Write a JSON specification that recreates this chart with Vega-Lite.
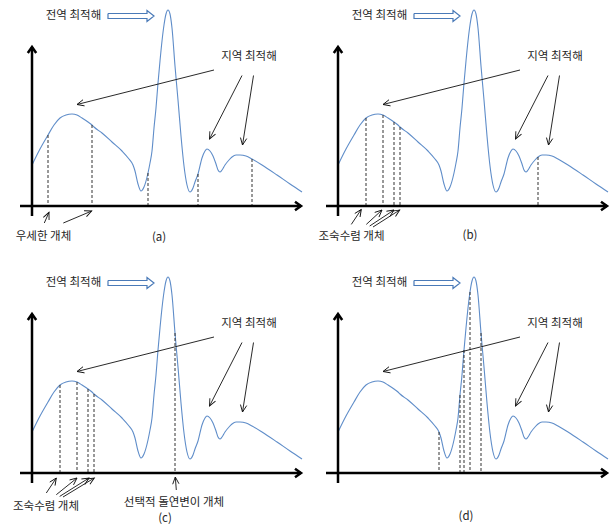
{
  "$schema": "https://vega.github.io/schema/vega-lite/v6.json",
  "padding": 0,
  "background": "white",
  "config": {"view": {"stroke": null}, "text": {"font": "Noto Sans CJK KR", "fontSize": 11.5, "color": "#262626"}},
  "datasets": {
    "curve": [
      {"x":0,"y":41},{"x":8,"y":57},{"x":16,"y":71},{"x":22,"y":81},{"x":28,"y":88},{"x":34,"y":91},{"x":40,"y":92},{"x":45,"y":91},{"x":50,"y":88},{"x":56,"y":84},{"x":60,"y":81},{"x":62,"y":79},{"x":70,"y":73},{"x":80,"y":64},{"x":90,"y":55},{"x":97,"y":47},{"x":101,"y":41},{"x":103,"y":35},{"x":106,"y":22},{"x":109,"y":15},{"x":112,"y":19},{"x":116,"y":33},{"x":118,"y":43},{"x":120,"y":55},{"x":122,"y":78},{"x":124,"y":98},{"x":126,"y":123},{"x":128,"y":145},{"x":130,"y":165},{"x":132,"y":181},{"x":134,"y":192},{"x":136,"y":196},{"x":138,"y":192},{"x":140,"y":178},{"x":143,"y":140},{"x":146,"y":106},{"x":149,"y":70},{"x":152,"y":40},{"x":155,"y":21},{"x":158,"y":14},{"x":161,"y":18},{"x":163,"y":24},{"x":166,"y":32},{"x":170,"y":48},{"x":173,"y":55},{"x":175,"y":57},{"x":178,"y":55},{"x":181,"y":50},{"x":184,"y":42},{"x":186,"y":36},{"x":188,"y":34},{"x":190,"y":36},{"x":193,"y":41},{"x":197,"y":46},{"x":200,"y":49},{"x":204,"y":51},{"x":208,"y":51},{"x":214,"y":50},{"x":220,"y":47},{"x":230,"y":41},{"x":245,"y":31},{"x":258,"y":22},{"x":270,"y":14}
    ],
    "dashes": [
      {"panel":"a","x":16,"y":71},{"panel":"a","x":60,"y":81},{"panel":"a","x":116,"y":33},{"panel":"a","x":166,"y":32},{"panel":"a","x":220,"y":47},
      {"panel":"b","x":28,"y":88},{"panel":"b","x":45,"y":91},{"panel":"b","x":56,"y":84},{"panel":"b","x":62,"y":79},{"panel":"b","x":200,"y":49},
      {"panel":"c","x":28,"y":88},{"panel":"c","x":45,"y":91},{"panel":"c","x":56,"y":84},{"panel":"c","x":62,"y":79},{"panel":"c","x":143,"y":140},
      {"panel":"d","x":101,"y":41},{"panel":"d","x":122,"y":78},{"panel":"d","x":126,"y":123},{"panel":"d","x":132,"y":181},{"panel":"d","x":143,"y":140}
    ],
    "axes": [
      {"x":0,"y":159,"x2":0,"y2":-10,"ang":-90},
      {"x":269,"y":0,"x2":-12,"y2":0,"ang":0}
    ],
    "arrows": [
      {"panel":"all","x":45,"y":101.5,"x2":182,"y2":136,"ang":165.9},
      {"panel":"all","x":177.5,"y":67,"x2":210,"y2":130.5,"ang":117.1},
      {"panel":"all","x":210.5,"y":61,"x2":221.5,"y2":130.5,"ang":99.0},
      {"panel":"a","x":17,"y":-6.3,"x2":12.3,"y2":-17,"ang":-66.3},
      {"panel":"a","x":59.7,"y":-5,"x2":31.3,"y2":-17,"ang":-22.9},
      {"panel":"b","x":23.3,"y":-3.4,"x2":13.3,"y2":-18.4,"ang":-56.3},
      {"panel":"b","x":44,"y":-4,"x2":28.3,"y2":-18.4,"ang":-42.5},
      {"panel":"b","x":56,"y":-4,"x2":31.7,"y2":-20,"ang":-33.4},
      {"panel":"b","x":61.7,"y":-4,"x2":35,"y2":-21,"ang":-32.5},
      {"panel":"c","x":24.3,"y":-5,"x2":14.3,"y2":-20,"ang":-56.3},
      {"panel":"c","x":45,"y":-5,"x2":24.3,"y2":-21.7,"ang":-38.9},
      {"panel":"c","x":57,"y":-5,"x2":27.7,"y2":-23.4,"ang":-32.1},
      {"panel":"c","x":62.3,"y":-5,"x2":31,"y2":-24,"ang":-31.3},
      {"panel":"c","x":143.3,"y":-4,"x2":144.3,"y2":-17,"ang":-94.4}
    ],
    "texts": [
      {"panel":"all","x":41.5,"y":190.5,"label":"전역 최적해"},
      {"panel":"all","x":217,"y":149.5,"label":"지역 최적해"},
      {"panel":"a","x":11.5,"y":-31,"label":"우세한 개체"},
      {"panel":"a","x":127,"y":-31.5,"label":"(a)"},
      {"panel":"b","x":13.5,"y":-31,"label":"조숙수렴 개체"},
      {"panel":"b","x":132,"y":-29.5,"label":"(b)"},
      {"panel":"c","x":14,"y":-34,"label":"조숙수렴 개체"},
      {"panel":"c","x":142,"y":-30,"label":"선택적 돌연변이 개체"},
      {"panel":"c","x":133,"y":-46,"label":"(c)"},
      {"panel":"d","x":128,"y":-43.5,"label":"(d)"}
    ],
    "block": [
      {"o":1,"x":76,"y":192.5},{"o":2,"x":115,"y":192.5},{"o":3,"x":115,"y":195.5},{"o":4,"x":122,"y":190},{"o":5,"x":115,"y":184.5},{"o":6,"x":115,"y":187.5},{"o":7,"x":76,"y":187.5},{"o":8,"x":76,"y":192.5}
    ]
  },
  "spacing": 7,
  "vconcat": [
    {"spacing": 0, "hconcat": [
      {"width":302,"height":260,
       "encoding":{"x":{"field":"x","type":"quantitative","scale":{"domain":[-32,270],"nice":false,"zero":false},"axis":null},
                   "y":{"field":"y","type":"quantitative","scale":{"domain":[-54,206],"nice":false,"zero":false},"axis":null}},
       "layer":[
        {"data":{"name":"curve"},"mark":{"type":"line","interpolate":"monotone","color":"#5f8dc9","strokeWidth":1.1}},
        {"data":{"name":"dashes"},"transform":[{"filter":"datum.panel=='a'"}],"mark":{"type":"rule","color":"#333333","strokeWidth":1,"strokeDash":[3,2]},"encoding":{"y2":{"datum":0}}},
        {"data":{"name":"axes"},"mark":{"type":"rule","color":"#000000","strokeWidth":2.5},"encoding":{"x2":{"field":"x2"},"y2":{"field":"y2"}}},
        {"data":{"name":"axes"},"mark":{"type":"point","shape":"M-1,-0.7L0,0L-1,0.7","filled":false,"stroke":"#000000","strokeWidth":2.5,"size":144,"opacity":1},"encoding":{"angle":{"field":"ang","type":"quantitative","scale":null}}},
        {"data":{"name":"arrows"},"transform":[{"filter":"datum.panel=='a' || datum.panel=='all'"}],"mark":{"type":"rule","color":"#111111","strokeWidth":0.9},"encoding":{"x2":{"field":"x2"},"y2":{"field":"y2"}}},
        {"data":{"name":"arrows"},"transform":[{"filter":"datum.panel=='a' || datum.panel=='all'"}],"mark":{"type":"point","shape":"M-1,-0.45L0,0L-1,0.45","filled":false,"stroke":"#111111","strokeWidth":0.9,"size":196,"opacity":1},"encoding":{"angle":{"field":"ang","type":"quantitative","scale":null}}},
        {"data":{"name":"block"},"mark":{"type":"line","color":"#4a7ab8","strokeWidth":1.2},"encoding":{"order":{"field":"o"}}},
        {"data":{"name":"texts"},"transform":[{"filter":"datum.panel=='a' || datum.panel=='all'"}],"mark":{"type":"text","align":"center","baseline":"middle"},"encoding":{"text":{"field":"label"}}}
       ]},
      {"width":302,"height":260,
       "encoding":{"x":{"field":"x","type":"quantitative","scale":{"domain":[-32,270],"nice":false,"zero":false},"axis":null},
                   "y":{"field":"y","type":"quantitative","scale":{"domain":[-54,206],"nice":false,"zero":false},"axis":null}},
       "layer":[
        {"data":{"name":"curve"},"mark":{"type":"line","interpolate":"monotone","color":"#5f8dc9","strokeWidth":1.1}},
        {"data":{"name":"dashes"},"transform":[{"filter":"datum.panel=='b'"}],"mark":{"type":"rule","color":"#333333","strokeWidth":1,"strokeDash":[3,2]},"encoding":{"y2":{"datum":0}}},
        {"data":{"name":"axes"},"mark":{"type":"rule","color":"#000000","strokeWidth":2.5},"encoding":{"x2":{"field":"x2"},"y2":{"field":"y2"}}},
        {"data":{"name":"axes"},"mark":{"type":"point","shape":"M-1,-0.7L0,0L-1,0.7","filled":false,"stroke":"#000000","strokeWidth":2.5,"size":144,"opacity":1},"encoding":{"angle":{"field":"ang","type":"quantitative","scale":null}}},
        {"data":{"name":"arrows"},"transform":[{"filter":"datum.panel=='b' || datum.panel=='all'"}],"mark":{"type":"rule","color":"#111111","strokeWidth":0.9},"encoding":{"x2":{"field":"x2"},"y2":{"field":"y2"}}},
        {"data":{"name":"arrows"},"transform":[{"filter":"datum.panel=='b' || datum.panel=='all'"}],"mark":{"type":"point","shape":"M-1,-0.45L0,0L-1,0.45","filled":false,"stroke":"#111111","strokeWidth":0.9,"size":196,"opacity":1},"encoding":{"angle":{"field":"ang","type":"quantitative","scale":null}}},
        {"data":{"name":"block"},"mark":{"type":"line","color":"#4a7ab8","strokeWidth":1.2},"encoding":{"order":{"field":"o"}}},
        {"data":{"name":"texts"},"transform":[{"filter":"datum.panel=='b' || datum.panel=='all'"}],"mark":{"type":"text","align":"center","baseline":"middle"},"encoding":{"text":{"field":"label"}}}
       ]}
    ]},
    {"spacing": 0, "hconcat": [
      {"width":302,"height":260,
       "encoding":{"x":{"field":"x","type":"quantitative","scale":{"domain":[-32,270],"nice":false,"zero":false},"axis":null},
                   "y":{"field":"y","type":"quantitative","scale":{"domain":[-54,206],"nice":false,"zero":false},"axis":null}},
       "layer":[
        {"data":{"name":"curve"},"mark":{"type":"line","interpolate":"monotone","color":"#5f8dc9","strokeWidth":1.1}},
        {"data":{"name":"dashes"},"transform":[{"filter":"datum.panel=='c'"}],"mark":{"type":"rule","color":"#333333","strokeWidth":1,"strokeDash":[3,2]},"encoding":{"y2":{"datum":0}}},
        {"data":{"name":"axes"},"mark":{"type":"rule","color":"#000000","strokeWidth":2.5},"encoding":{"x2":{"field":"x2"},"y2":{"field":"y2"}}},
        {"data":{"name":"axes"},"mark":{"type":"point","shape":"M-1,-0.7L0,0L-1,0.7","filled":false,"stroke":"#000000","strokeWidth":2.5,"size":144,"opacity":1},"encoding":{"angle":{"field":"ang","type":"quantitative","scale":null}}},
        {"data":{"name":"arrows"},"transform":[{"filter":"datum.panel=='c' || datum.panel=='all'"}],"mark":{"type":"rule","color":"#111111","strokeWidth":0.9},"encoding":{"x2":{"field":"x2"},"y2":{"field":"y2"}}},
        {"data":{"name":"arrows"},"transform":[{"filter":"datum.panel=='c' || datum.panel=='all'"}],"mark":{"type":"point","shape":"M-1,-0.45L0,0L-1,0.45","filled":false,"stroke":"#111111","strokeWidth":0.9,"size":196,"opacity":1},"encoding":{"angle":{"field":"ang","type":"quantitative","scale":null}}},
        {"data":{"name":"block"},"mark":{"type":"line","color":"#4a7ab8","strokeWidth":1.2},"encoding":{"order":{"field":"o"}}},
        {"data":{"name":"texts"},"transform":[{"filter":"datum.panel=='c' || datum.panel=='all'"}],"mark":{"type":"text","align":"center","baseline":"middle"},"encoding":{"text":{"field":"label"}}}
       ]},
      {"width":302,"height":260,
       "encoding":{"x":{"field":"x","type":"quantitative","scale":{"domain":[-32,270],"nice":false,"zero":false},"axis":null},
                   "y":{"field":"y","type":"quantitative","scale":{"domain":[-54,206],"nice":false,"zero":false},"axis":null}},
       "layer":[
        {"data":{"name":"curve"},"mark":{"type":"line","interpolate":"monotone","color":"#5f8dc9","strokeWidth":1.1}},
        {"data":{"name":"dashes"},"transform":[{"filter":"datum.panel=='d'"}],"mark":{"type":"rule","color":"#333333","strokeWidth":1,"strokeDash":[3,2]},"encoding":{"y2":{"datum":0}}},
        {"data":{"name":"axes"},"mark":{"type":"rule","color":"#000000","strokeWidth":2.5},"encoding":{"x2":{"field":"x2"},"y2":{"field":"y2"}}},
        {"data":{"name":"axes"},"mark":{"type":"point","shape":"M-1,-0.7L0,0L-1,0.7","filled":false,"stroke":"#000000","strokeWidth":2.5,"size":144,"opacity":1},"encoding":{"angle":{"field":"ang","type":"quantitative","scale":null}}},
        {"data":{"name":"arrows"},"transform":[{"filter":"datum.panel=='d' || datum.panel=='all'"}],"mark":{"type":"rule","color":"#111111","strokeWidth":0.9},"encoding":{"x2":{"field":"x2"},"y2":{"field":"y2"}}},
        {"data":{"name":"arrows"},"transform":[{"filter":"datum.panel=='d' || datum.panel=='all'"}],"mark":{"type":"point","shape":"M-1,-0.45L0,0L-1,0.45","filled":false,"stroke":"#111111","strokeWidth":0.9,"size":196,"opacity":1},"encoding":{"angle":{"field":"ang","type":"quantitative","scale":null}}},
        {"data":{"name":"block"},"mark":{"type":"line","color":"#4a7ab8","strokeWidth":1.2},"encoding":{"order":{"field":"o"}}},
        {"data":{"name":"texts"},"transform":[{"filter":"datum.panel=='d' || datum.panel=='all'"}],"mark":{"type":"text","align":"center","baseline":"middle"},"encoding":{"text":{"field":"label"}}}
       ]}
    ]}
  ]
}
